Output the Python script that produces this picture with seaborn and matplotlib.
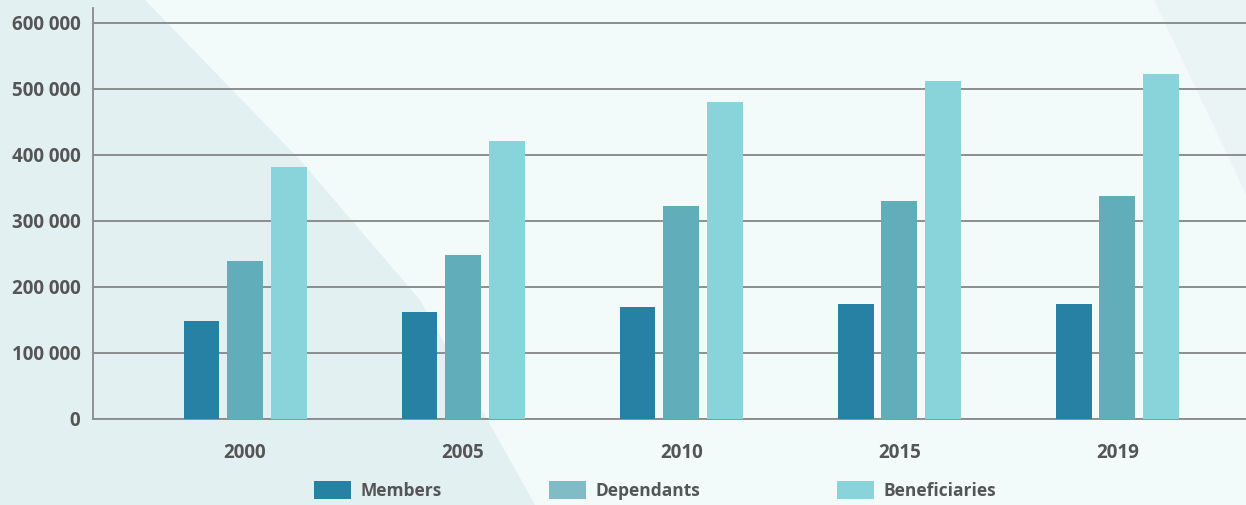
import matplotlib
matplotlib.use("Agg")
import matplotlib.pyplot as plt
from matplotlib.patches import Polygon, Patch
import seaborn as sns
import pandas as pd

years = ["2000", "2005", "2010", "2015", "2019"]
members = [147000, 161000, 169000, 174000, 174000]
dependants = [239000, 248000, 322000, 330000, 337000]
beneficiaries = [381000, 420000, 480000, 511000, 522000]
series_names = ["Members", "Dependants", "Beneficiaries"]
y_ticks = [0, 100000, 200000, 300000, 400000, 500000, 600000]
y_tick_labels = ["0", "100 000", "200 000", "300 000", "400 000", "500 000", "600 000"]

bar_colors = ["#2681a4", "#61aeba", "#89d3da"]
legend_colors = ["#2681a4", "#80bcc5", "#89d3da"]

df = pd.DataFrame({
    "year": years * 3,
    "series": sum([[s] * len(years) for s in series_names], []),
    "value": members + dependants + beneficiaries,
})

sns.set_theme(style="white")
plt.rcParams["font.family"] = ["Open Sans", "DejaVu Sans"]

W, H = 1246, 505
fig = plt.figure(figsize=(W / 100, H / 100), dpi=100)
fig.patch.set_facecolor("#f2fafa")

def fpoly(pts, color):
    p = Polygon([(x / W, 1 - y / H) for x, y in pts], closed=True,
                transform=fig.transFigure, facecolor=color, edgecolor="none", zorder=-5)
    fig.patches.append(p)

fpoly([(0, 0), (145, 0), (300, 160), (420, 300), (510, 460), (535, 505), (0, 505)], "#e3f0f1")
fpoly([(1154, 0), (1246, 0), (1246, 194)], "#ebf4f4")

ax = fig.add_axes([93 / W, 1 - 418.5 / H, 1 - 93 / W, (418.5 - 8) / H])
ax.set_facecolor("none")
ax.set_zorder(1)

sns.barplot(data=df, x="year", y="value", hue="series", palette=bar_colors,
            width=0.6, gap=0.18, ax=ax, saturation=1, legend=False, zorder=3,
            edgecolor="none", linewidth=0)

ax.set_xlim(-0.697, 4.59)
ax.set_ylim(0, 622000)
ax.set_yticks(y_ticks)
ax.set_yticklabels(y_tick_labels)
ax.yaxis.grid(True, color="#858585", linewidth=1.3, zorder=1)
ax.xaxis.grid(False)
ax.set_axisbelow(True)
ax.set_xlabel("")
ax.set_ylabel("")

for s in ["top", "right"]:
    ax.spines[s].set_visible(False)
for s in ["left", "bottom"]:
    ax.spines[s].set_color("#8a8a8a")
    ax.spines[s].set_linewidth(1.3)

ax.tick_params(axis="y", length=0, pad=9, labelsize=13.5, labelcolor="#555555")
ax.tick_params(axis="x", length=0, pad=18, labelsize=13.5, labelcolor="#555555")
for lbl in ax.get_yticklabels() + ax.get_xticklabels():
    lbl.set_fontweight("bold")

legend_x = [314, 549, 837]
for name, col, lx in zip(series_names, legend_colors, legend_x):
    leg = fig.legend([Patch(facecolor=col, edgecolor="none")], [name], loc="center left",
                     bbox_to_anchor=(lx / W, 1 - 490.5 / H), frameon=False,
                     handlelength=2.15, handleheight=1.2, handletextpad=0.5,
                     borderpad=0, borderaxespad=0,
                     prop={"size": 12.5, "weight": "bold"})
    for t in leg.get_texts():
        t.set_color("#555555")

fig.savefig("out.png", dpi=100, facecolor=fig.get_facecolor())
